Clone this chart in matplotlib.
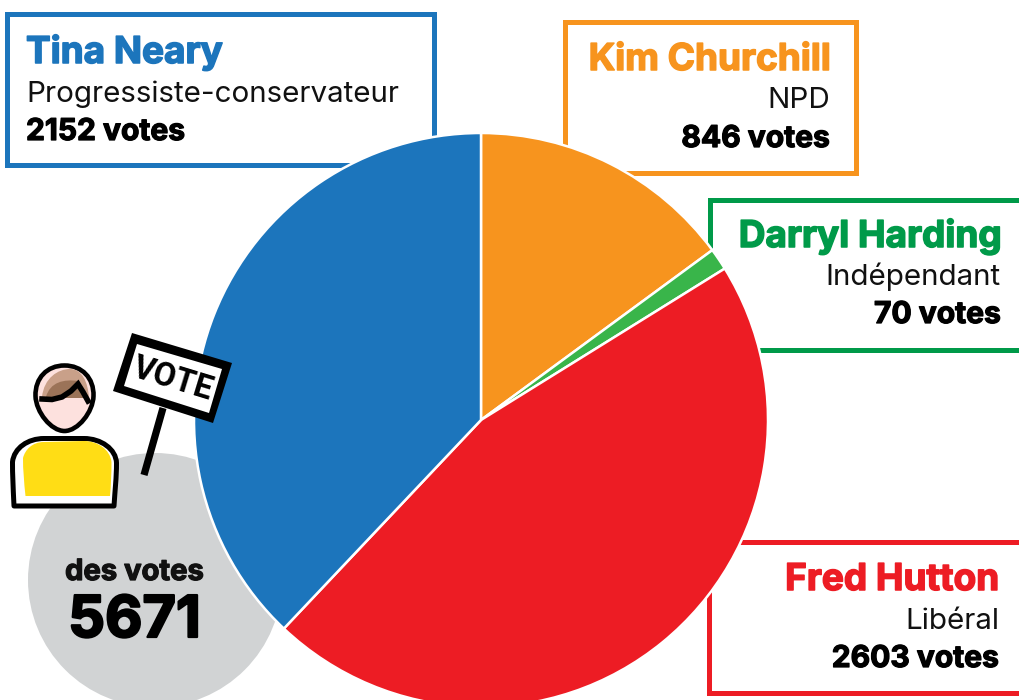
import matplotlib
matplotlib.use("Agg")
import matplotlib.pyplot as plt
import matplotlib.patheffects as pe
from matplotlib.patches import Rectangle, Circle, Polygon, PathPatch
from matplotlib.path import Path

W, H = 1019, 700

names = ["Kim Churchill", "Darryl Harding", "Fred Hutton", "Tina Neary"]
parties = ["NPD", "Indépendant", "Libéral", "Progressiste-conservateur"]
votes = [846, 70, 2603, 2152]
colors = ["#F7941E", "#39B54A", "#ED1C24", "#1C75BC"]
text_colors = ["#F7941E", "#009A49", "#ED1C24", "#1C75BC"]
box_colors = ["#F7941E", "#009A49", "#ED1C24", "#1C75BC"]
total_votes = 5671

FONT = ["Inter", "DejaVu Sans"]
M, L, C4, Z = Path.MOVETO, Path.LINETO, Path.CURVE4, Path.CLOSEPOLY


def fy(y):
    # pixel rows run downward, the axes run upward
    return H - y


def heavy(color, width=1.0):
    # Inter stops at bold here, so fatten the strokes a little
    return [pe.withStroke(linewidth=width, foreground=color)]


def label_box(ax, x0, y0, x1, y1, color):
    ax.add_patch(Rectangle((x0, fy(y1)), x1 - x0, y1 - y0, fc="white", ec=color,
                           lw=3.6, joinstyle="miter", zorder=1))


def label_text(ax, x, ys, i, ha):
    ax.text(x, fy(ys[0]), names[i], color=text_colors[i], fontsize=26.6, fontweight="bold",
            family=FONT, ha=ha, va="baseline", zorder=5, path_effects=heavy(text_colors[i], 1.1))
    ax.text(x, fy(ys[1]), parties[i], color="#111111", fontsize=21.3, fontweight="normal",
            family=FONT, ha=ha, va="baseline", zorder=5)
    ax.text(x, fy(ys[2]), f"{votes[i]} votes", color="black", fontsize=21.6, fontweight="bold",
            family=FONT, ha=ha, va="baseline", zorder=5, path_effects=heavy("black", 0.9))


def shape(ax, verts, codes, **kw):
    path = Path([(x, fy(y)) for x, y in verts], codes)
    ax.add_patch(PathPatch(path, **kw))


def poly(ax, pts, **kw):
    ax.add_patch(Polygon([(x, fy(y)) for x, y in pts], closed=True, **kw))


def draw_voter(ax):
    z = 6
    # sign post and board
    ax.plot([163, 144], [fy(408), fy(475)], color="black", lw=5.2, solid_capstyle="butt", zorder=z)
    poly(ax, [(132, 333), (232, 363), (213, 423), (113, 391)], fc="black", ec="none", zorder=z)
    poly(ax, [(137, 344), (222, 369), (209, 413), (124, 386)], fc="white", ec="none", zorder=z)
    ax.text(173, fy(379), "VOTE", rotation=-17, rotation_mode="anchor", fontsize=23.5,
            fontweight="bold", family=["Roboto", "DejaVu Sans"], color="black",
            ha="center", va="center", zorder=z + 1)

    # head, egg shaped
    head = [(64.5, 365.5), (82, 365.5), (94, 378), (93.5, 396), (93, 412), (78, 431), (64.5, 431),
            (51, 431), (36, 412), (35.5, 396), (35, 378), (47, 365.5), (64.5, 365.5), (64.5, 365.5)]
    codes = [M, C4, C4, C4, C4, C4, C4, C4, C4, C4, C4, C4, C4, Z]
    shape(ax, head, codes, fc="#FDE1DE", ec="black", lw=3.3, zorder=z)

    # hair: pale band on top, darker fill under it
    shape(ax, [(42, 397), (44, 378), (58, 369), (70, 369), (82, 369), (88, 382), (89, 398), (42, 397)],
          [M, C4, C4, C4, C4, C4, C4, Z], fc="#C9A089", ec="none", zorder=z)
    shape(ax, [(46, 397), (50, 382), (64, 379), (78, 381), (80, 383), (84, 392), (87, 398), (60, 398), (46, 397)],
          [M, C4, C4, C4, L, L, L, L, Z], fc="#9B7358", ec="none", zorder=z)
    ax.plot([42, 52, 62, 71, 78, 83, 88], [fy(399), fy(399.5), fy(397), fy(391), fy(384), fy(392), fy(401)],
            color="black", lw=4, solid_joinstyle="miter", zorder=z + 1)

    # shoulders outline and shirt
    body = [(14, 506), (13, 485), (12.5, 475), (12.5, 462), (14, 448), (28, 438.5), (44, 438.5),
            (84, 438.5), (101, 438.5), (116, 449), (116.5, 463), (116.5, 478), (115, 490), (114, 506), (14, 506)]
    codes = [M, C4, C4, C4, C4, C4, C4, L, C4, C4, C4, C4, C4, C4, Z]
    shape(ax, body, codes, fc="white", ec="black", lw=3.6, joinstyle="round", zorder=z)
    shirt = [(25.5, 496), (24, 482), (23, 470), (23, 458), (25, 450), (32, 442), (44, 442),
             (84, 441), (97, 441), (110, 449), (111.5, 462), (111.5, 474), (111, 485), (110, 496), (25.5, 496)]
    shape(ax, shirt, codes, fc="#FFDD15", ec="none", zorder=z)


fig = plt.figure(figsize=(W / 100, H / 100), dpi=100)
ax = fig.add_axes([0, 0, 1, 1])

# total votes disc sits behind the pie
ax.add_patch(Circle((155, fy(580)), 127, fc="#D1D3D4", ec="none", zorder=0))
ax.text(134.5, fy(580), "des votes", fontsize=21, fontweight="bold", family=FONT,
        color="#111111", ha="center", va="baseline", zorder=5, path_effects=heavy("#111111", 0.9))
ax.text(134.5, fy(637), str(total_votes), fontsize=41.5, fontweight="bold", family=FONT,
        color="black", ha="center", va="baseline", zorder=5, path_effects=heavy("black", 1.6))

label_box(ax, 7, 14, 434, 165, box_colors[3])
label_box(ax, 565, 22, 856, 173, box_colors[0])
label_box(ax, 710, 200, 1040, 350, box_colors[1])
label_box(ax, 709, 542, 1040, 693, box_colors[2])

wedges, _ = ax.pie(votes, colors=colors, startangle=90, counterclock=False,
                   center=(481, fy(420)), radius=287,
                   wedgeprops={"edgecolor": "white", "linewidth": 1.8, "zorder": 3})

label_text(ax, 26, (63, 102, 140), 3, "left")
label_text(ax, 830, (70, 108, 147), 0, "right")
label_text(ax, 1001, (247, 285, 323), 1, "right")
label_text(ax, 999, (590, 629, 667), 2, "right")

draw_voter(ax)

ax.set_xlim(0, W)
ax.set_ylim(0, H)
ax.set_aspect("equal")
ax.axis("off")

fig.savefig("out.png", dpi=100)
